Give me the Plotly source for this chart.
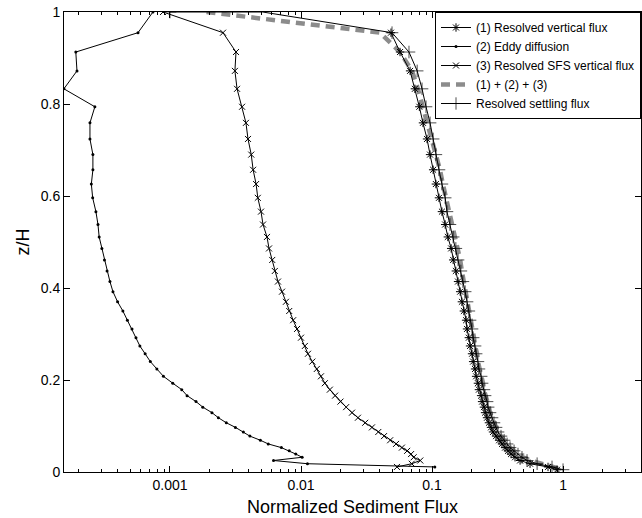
import plotly.graph_objects as go

# Vertical coordinate z/H (shared grid, top to bottom)
Z = [1.0, 0.955, 0.913, 0.872, 0.833, 0.794, 0.759, 0.724, 0.690, 0.657,
     0.626, 0.596, 0.566, 0.538, 0.511, 0.486, 0.461, 0.437, 0.414, 0.392,
     0.370, 0.350, 0.330, 0.311, 0.292, 0.274, 0.257, 0.240, 0.224, 0.208,
     0.193, 0.179, 0.166, 0.153, 0.141, 0.129, 0.118, 0.107, 0.097, 0.087,
     0.078, 0.069, 0.061, 0.053, 0.046, 0.039, 0.032, 0.025, 0.018, 0.011,
     0.005]

# (1) Resolved vertical flux
resolved_vertical = [None, 0.0486, 0.057, 0.068, 0.074, 0.080, 0.0853, 0.0916, 0.0966, 0.102,
                     0.107, 0.113, 0.119, 0.126, 0.132, 0.140, 0.145, 0.152, 0.158, 0.164,
                     0.169, 0.175, 0.182, 0.185, 0.191, 0.195, 0.202, 0.206, 0.213, 0.217,
                     0.224, 0.228, 0.237, 0.241, 0.249, 0.254, 0.263, 0.272, 0.282, 0.292,
                     0.308, 0.325, 0.342, 0.361, 0.380, 0.401, 0.430, 0.470, 0.560, 0.768,
                     0.90]

# (2) Eddy diffusion
eddy_diffusion = [7.41e-4, 5.70e-4, 1.91e-4, 1.95e-4, 1.55e-4, 2.67e-4, 2.45e-4, 2.45e-4, 2.58e-4, 2.58e-4,
                  2.51e-4, 2.57e-4, 2.72e-4, 2.82e-4, 2.88e-4, 3.02e-4, 3.16e-4, 3.31e-4, 3.48e-4, 3.67e-4,
                  3.98e-4, 4.37e-4, 4.73e-4, 5.13e-4, 5.50e-4, 5.89e-4, 6.46e-4, 7.08e-4, 7.94e-4, 8.91e-4,
                  1.05e-3, 1.23e-3, 1.35e-3, 1.58e-3, 1.78e-3, 2.09e-3, 2.34e-3, 2.69e-3, 3.16e-3, 3.63e-3,
                  4.07e-3, 4.90e-3, 5.62e-3, 7.08e-3, 8.13e-3, 9.12e-3, 1.02e-2, 6.17e-3, 1.12e-2, 0.105,
                  None]

# (3) Resolved SFS vertical flux
sfs_vertical = [8.85e-4, 2.54e-3, 3.19e-3, 3.13e-3, 3.25e-3, 3.55e-3, 3.80e-3, 3.94e-3, 4.17e-3, 4.31e-3,
                4.54e-3, 4.68e-3, 4.95e-3, 5.13e-3, 5.50e-3, 5.70e-3, 6.03e-3, 6.31e-3, 6.67e-3, 7.16e-3,
                7.67e-3, 8.13e-3, 8.71e-3, 9.33e-3, 1.00e-2, 1.07e-2, 1.13e-2, 1.22e-2, 1.32e-2, 1.42e-2,
                1.52e-2, 1.66e-2, 1.82e-2, 2.00e-2, 2.21e-2, 2.45e-2, 2.72e-2, 3.09e-2, 3.48e-2, 3.89e-2,
                4.30e-2, 4.79e-2, 5.31e-2, 5.89e-2, 6.46e-2, 6.92e-2, 7.24e-2, 8.13e-2, 7.0e-2, 5.4e-2,
                None]

# (1) + (2) + (3)
total_flux = [1.9e-3, 0.040, 0.057, 0.0703, 0.078, 0.0853, 0.0916, 0.100, 0.107, 0.115,
              0.121, 0.128, 0.135, 0.142, 0.150, 0.158, 0.164, 0.169, 0.175, 0.182,
              0.188, 0.191, 0.199, 0.202, 0.209, 0.213, 0.221, 0.224, 0.232, 0.237,
              0.245, 0.249, 0.258, 0.263, 0.272, 0.277, 0.287, 0.297, 0.308, 0.319,
              0.336, 0.355, 0.374, 0.394, 0.423, 0.453, 0.495, 0.560, 0.667, 0.840,
              1.0]

# Resolved settling flux (extra point at the lid)
settling_z = [1.0, 1.0, 0.955, 0.913, 0.872, 0.833, 0.794, 0.759, 0.724, 0.690, 0.657,
              0.626, 0.596, 0.566, 0.538, 0.511, 0.486, 0.461, 0.437, 0.414, 0.392,
              0.370, 0.350, 0.330, 0.311, 0.292, 0.274, 0.257, 0.240, 0.224, 0.208,
              0.193, 0.179, 0.166, 0.153, 0.141, 0.129, 0.118, 0.107, 0.097, 0.087,
              0.078, 0.069, 0.061, 0.053, 0.046, 0.039, 0.032, 0.025, 0.018, 0.011,
              0.005]
settling_flux = [1.0e-3, 5.1e-3, 0.0495, 0.0667, 0.077, 0.0839, 0.090, 0.0966, 0.102, 0.107, 0.113,
                 0.119, 0.126, 0.130, 0.137, 0.145, 0.152, 0.158, 0.166, 0.172, 0.179,
                 0.185, 0.191, 0.195, 0.202, 0.206, 0.213, 0.217, 0.224, 0.228, 0.237,
                 0.241, 0.249, 0.254, 0.263, 0.268, 0.277, 0.287, 0.297, 0.308, 0.319,
                 0.336, 0.355, 0.374, 0.394, 0.423, 0.453, 0.486, 0.531, 0.634, 0.824,
                 1.0]

x_tick_vals = [0.001, 0.01, 0.1, 1]
x_tick_text = ["0.001", "0.01", "0.1", "1"]
y_tick_vals = [0, 0.2, 0.4, 0.6, 0.8, 1]
y_tick_text = ["0", "0.2", "0.4", "0.6", "0.8", "1"]

FONT = "Liberation Sans, Arial, sans-serif"

fig = go.Figure()

# gray dashed sum (drawn first, beneath)
fig.add_trace(go.Scatter(
    x=total_flux, y=Z, mode="lines", name="(1) + (2) + (3)",
    line=dict(color="#8c8c8c", width=4.5, dash="9px,6px"), legendrank=4))

fig.add_trace(go.Scatter(
    x=resolved_vertical, y=Z, mode="lines+markers", name="(1) Resolved vertical flux",
    line=dict(color="black", width=1),
    marker=dict(symbol="asterisk-open", size=7, color="black", line=dict(width=1, color="black")),
    legendrank=1))

fig.add_trace(go.Scatter(
    x=eddy_diffusion, y=Z, mode="lines+markers", name="(2) Eddy diffusion",
    line=dict(color="black", width=1),
    marker=dict(symbol="circle", size=3, color="black"), legendrank=2))

fig.add_trace(go.Scatter(
    x=sfs_vertical, y=Z, mode="lines+markers", name="(3) Resolved SFS vertical flux",
    line=dict(color="black", width=1),
    marker=dict(symbol="x-thin-open", size=6, color="black", line=dict(width=1, color="black")),
    legendrank=3))

settle_sizes = [9] * len(settling_flux)
settle_sizes[1] = 0
fig.add_trace(go.Scatter(
    x=settling_flux, y=settling_z, mode="lines+markers", name="Resolved settling flux",
    line=dict(color="black", width=1),
    marker=dict(symbol="cross-thin-open", size=settle_sizes, color="black",
                line=dict(width=1, color="black")),
    legendrank=5))

minor_vals = []
for dec in [1e-4, 1e-3, 1e-2, 1e-1, 1]:
    for k in range(2, 10):
        minor_vals.append(dec * k)

fig.update_layout(
    width=642, height=518,
    margin=dict(l=64, r=1, t=12, b=46),
    paper_bgcolor="white", plot_bgcolor="white",
    font=dict(family=FONT, color="black", size=14),
    showlegend=True,
    legend=dict(x=1, xanchor="right", y=1, yanchor="top",
                bgcolor="white", bordercolor="black", borderwidth=1,
                font=dict(family=FONT, size=12, color="black"),
                tracegroupgap=0, itemwidth=30),
    xaxis=dict(type="log", range=[-3.809, 0.595],
               tickvals=x_tick_vals, ticktext=x_tick_text,
               ticks="inside", ticklen=6, tickcolor="black",
               showline=True, linecolor="black", linewidth=1, mirror="ticks",
               showgrid=False, zeroline=False,
               minor=dict(tickvals=minor_vals, ticks="inside", ticklen=3, tickcolor="black", showgrid=False),
               title=dict(text="Normalized Sediment Flux", font=dict(size=18), standoff=8),
               tickfont=dict(size=14)),
    yaxis=dict(range=[0, 1], tickvals=y_tick_vals, ticktext=y_tick_text,
               ticks="inside", ticklen=6, tickcolor="black",
               showline=True, linecolor="black", linewidth=1, mirror="ticks",
               showgrid=False, zeroline=False,
               title=dict(text="z/H", font=dict(size=18), standoff=6),
               tickfont=dict(size=14)),
)

fig.write_html("out.html")
